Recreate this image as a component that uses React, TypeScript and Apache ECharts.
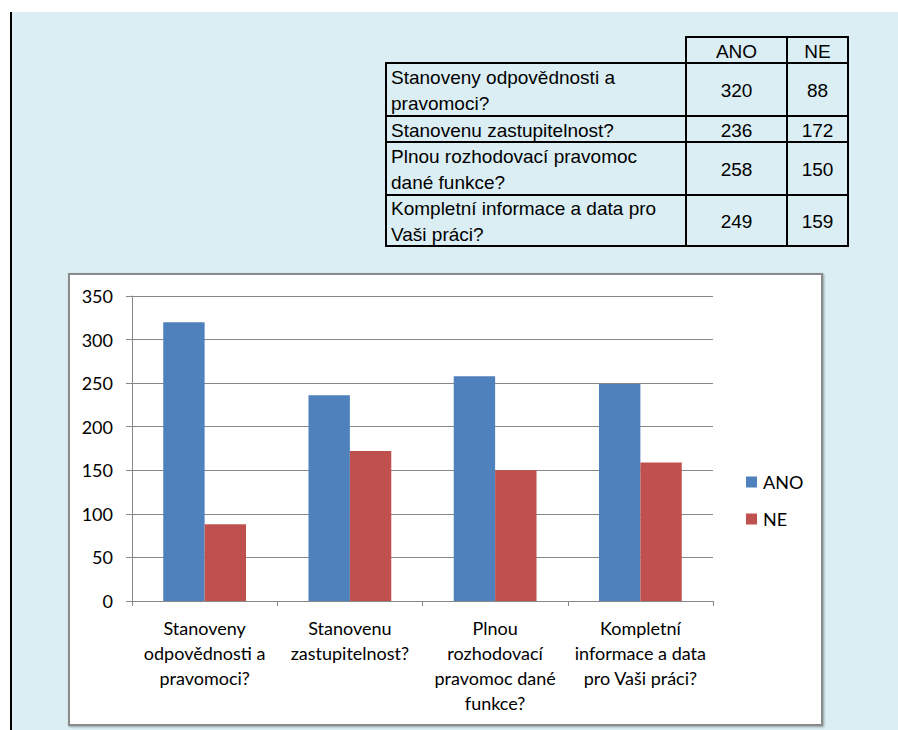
import React, { useEffect, useRef } from "react";
import * as echarts from "echarts";

const categories = [
  "Stanoveny odpovědnosti a pravomoci?",
  "Stanovenu zastupitelnost?",
  "Plnou rozhodovací pravomoc dané funkce?",
  "Kompletní informace a data pro Vaši práci?",
];
const axisLabels = [
  "Stanoveny\nodpovědnosti a\npravomoci?",
  "Stanovenu\nzastupitelnost?",
  "Plnou\nrozhodovací\npravomoc dané\nfunkce?",
  "Kompletní\ninformace a data\npro Vaši práci?",
];
const tableLabels = [
  "Stanoveny odpovědnosti a\npravomoci?",
  "Stanovenu zastupitelnost?",
  "Plnou rozhodovací pravomoc\ndané funkce?",
  "Kompletní informace a data pro\nVaši práci?",
];
const seriesNames = ["ANO", "NE"];
const anoValues = [320, 236, 258, 249];
const neValues = [88, 172, 150, 159];
const yMin = 0;
const yMax = 350;
const yStep = 50;

const BLUE = "#4F81BD";
const RED = "#C0504D";
const AXIS_GRAY = "#878787";
const LABEL_FONT = "Lato, 'Open Sans', sans-serif";
const TABLE_FONT = "'Liberation Sans', Arial, sans-serif";

function buildTable(): any[] {
  const colX = [386, 686, 787, 848];
  const rowY = [63, 116, 142, 195, 246];
  const headerTop = 37;
  const els: any[] = [];
  const cellStyle = { fill: "transparent", stroke: "#000", lineWidth: 2 };
  for (let c = 1; c <= 2; c++) {
    els.push({
      type: "rect",
      z: 10,
      shape: { x: colX[c], y: headerTop, width: colX[c + 1] - colX[c], height: rowY[0] - headerTop },
      style: cellStyle,
    });
    els.push({
      type: "text",
      z: 11,
      x: (colX[c] + colX[c + 1]) / 2,
      y: (headerTop + rowY[0]) / 2 + 1,
      style: {
        text: seriesNames[c - 1],
        fill: "#000",
        font: `19px ${TABLE_FONT}`,
        align: "center",
        verticalAlign: "middle",
      },
    });
  }
  for (let r = 0; r < categories.length; r++) {
    const top = rowY[r];
    const bottom = rowY[r + 1];
    const mid = (top + bottom) / 2 + 1;
    for (let c = 0; c < 3; c++) {
      els.push({
        type: "rect",
        z: 10,
        shape: { x: colX[c], y: top, width: colX[c + 1] - colX[c], height: bottom - top },
        style: cellStyle,
      });
    }
    els.push({
      type: "text",
      z: 11,
      x: colX[0] + 5,
      y: mid,
      style: {
        text: tableLabels[r],
        fill: "#000",
        font: `19px ${TABLE_FONT}`,
        lineHeight: 26,
        align: "left",
        verticalAlign: "middle",
      },
    });
    const vals = [anoValues[r], neValues[r]];
    for (let c = 1; c <= 2; c++) {
      els.push({
        type: "text",
        z: 11,
        x: (colX[c] + colX[c + 1]) / 2,
        y: mid,
        style: {
          text: String(vals[c - 1]),
          fill: "#000",
          font: `19px ${TABLE_FONT}`,
          align: "center",
          verticalAlign: "middle",
        },
      });
    }
  }
  return els;
}

export default function App() {
  const ref = useRef<HTMLDivElement>(null);

  useEffect(() => {
    document.body.style.margin = "0";
    if (!ref.current) return;
    const chart = echarts.init(ref.current, undefined, { renderer: "svg" });
    const option: any = {
      animation: false,
      backgroundColor: "#ffffff",
      graphic: [
        { type: "rect", z: -20, shape: { x: 12, y: 12, width: 886, height: 718 }, style: { fill: "#DBEEF4" } },
        { type: "rect", z: -19, shape: { x: 10, y: 12, width: 2, height: 718 }, style: { fill: "#000" } },
        {
          type: "rect",
          z: -18,
          shape: { x: 69, y: 274, width: 753, height: 451 },
          style: {
            fill: "#ffffff",
            stroke: "#8a8a8a",
            lineWidth: 2,
            shadowBlur: 2,
            shadowOffsetX: 1,
            shadowOffsetY: 1,
            shadowColor: "rgba(0,0,0,0.35)",
          },
        },
        ...buildTable(),
      ],
      legend: {
        orient: "vertical",
        left: 741,
        top: 468,
        itemWidth: 11,
        itemHeight: 11,
        itemGap: 19,
        icon: "rect",
        data: seriesNames,
        textStyle: { fontFamily: LABEL_FONT, fontSize: 18, color: "#000", padding: [0, 0, 0, 1] },
      },
      grid: {
        left: 132,
        top: 296,
        right: 185,
        bottom: 129,
        outerBoundsMode: "none",
        containLabel: false,
      },
      xAxis: {
        type: "category",
        data: categories,
        axisLine: { lineStyle: { color: AXIS_GRAY, width: 1 } },
        axisTick: { show: true, length: 5, lineStyle: { color: AXIS_GRAY } },
        axisLabel: {
          interval: 0,
          margin: 14,
          fontFamily: LABEL_FONT,
          fontSize: 18,
          color: "#000",
          lineHeight: 25,
          align: "center",
          formatter: (_v: string, i: number) => axisLabels[i],
        },
      },
      yAxis: {
        type: "value",
        min: yMin,
        max: yMax,
        interval: yStep,
        axisLine: { show: true, lineStyle: { color: AXIS_GRAY, width: 1 } },
        axisTick: { show: true, length: 6, lineStyle: { color: AXIS_GRAY } },
        splitLine: { show: true, lineStyle: { color: AXIS_GRAY, width: 1 } },
        axisLabel: { margin: 19, fontFamily: LABEL_FONT, fontSize: 18, color: "#000" },
      },
      series: [
        {
          name: seriesNames[0],
          type: "bar",
          data: anoValues,
          itemStyle: { color: BLUE },
          barGap: "0%",
          barCategoryGap: "43%",
        },
        {
          name: seriesNames[1],
          type: "bar",
          data: neValues,
          itemStyle: { color: RED },
          barGap: "0%",
          barCategoryGap: "43%",
        },
      ],
    };
    chart.setOption(option);
    return () => chart.dispose();
  }, []);

  return <div ref={ref} style={{ width: 898, height: 730 }} />;
}
